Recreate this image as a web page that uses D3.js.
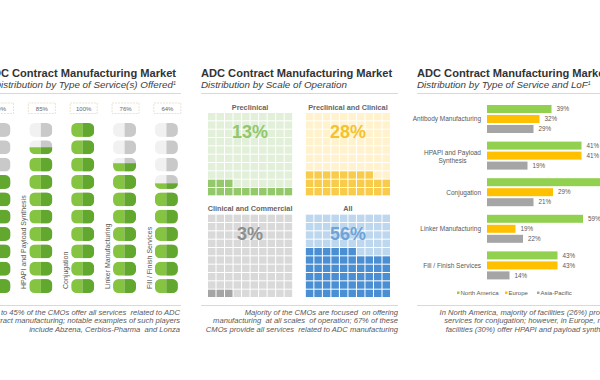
<!DOCTYPE html>
<html><head><meta charset="utf-8">
<script src="https://cdn.jsdelivr.net/npm/d3@7"></script>
<style>
html,body{margin:0;padding:0;background:#fff;}
svg{display:block;font-family:"Liberation Sans",Arial,sans-serif;}
</style></head>
<body><svg id="c" width="600" height="380"></svg>
<script>
// ---------- DATA ----------
const titleText = "ADC Contract Manufacturing Market";
const subtitles = ["Distribution by Type of Service(s) Offered", "Distribution by Scale of Operation", "Distribution by Type of Service and LoF"];
const subtitleNote = ["1", "", "1"];

// Panel 1: share of CMOs offering each service (%)
const serviceTypes = ["Antibody Manufacturing", "HPAPI and Payload Synthesis", "Conjugation", "Linker Manufacturing", "Fill / Finish Services"];
const servicePct = [70, 85, 100, 76, 64];
const pillsPerColumn = 10;

// Panel 2: scale of operation (%)
const scaleNames = ["Preclinical", "Preclinical and Clinical", "Clinical and Commercial", "All"];
const scalePct = [13, 28, 3, 56];

// Panel 3: type of service by location of facility
const lofCategories = ["Antibody Manufacturing", "HPAPI and Payload Synthesis", "Conjugation", "Linker Manufacturing", "Fill / Finish Services"];
const regions = ["North America", "Europe", "Asia-Pacific"];
const naValues = [43, 63, 82, 64, 47];
const euValues = [35, 63, 44, 19, 47];
const apValues = [31, 27, 31, 24, 15];
const naLabels = ["39%", "41%", "26%", "59%", "43%"];
const euLabels = ["32%", "41%", "29%", "19%", "43%"];
const apLabels = ["29%", "19%", "21%", "22%", "14%"];

const captions1 = ["Close to 45% of the CMOs offer all services  related to ADC", "contract manufacturing; notable examples of such players", "include Abzena, Cerbios-Pharma  and Lonza"];
const captions2 = ["Majority of the CMOs are focused  on offering", "manufacturing  at all scales  of operation; 67% of these", "CMOs provide all services  related to ADC manufacturing"];
const captions3 = ["In North America, majority of facilities (26%) provide", "services for conjugation; however, in Europe, most", "facilities (30%) offer HPAPI and payload synthesis"];

// ---------- DRAW ----------
const svg = d3.select("#c");
const TXT = "#595959";

function header(x, anchor, i) {
  svg.append("text").attr("x", x).attr("y", 77).attr("text-anchor", anchor)
    .attr("font-size", 11.1).attr("font-weight", "bold").attr("fill", "#333").text(titleText);
  const t = svg.append("text").attr("x", x).attr("y", 88).attr("text-anchor", anchor)
    .attr("font-size", 9.8).attr("font-style", "italic").attr("fill", "#404040");
  t.append("tspan").text(subtitles[i]);
  if (subtitleNote[i]) t.append("tspan").attr("font-size", 5.5).attr("dy", -3.5).text(subtitleNote[i]);
}
function rule(x1, x2, y) {
  svg.append("line").attr("x1", x1).attr("x2", x2).attr("y1", y).attr("y2", y)
    .attr("stroke", "#d9d9d9").attr("stroke-width", 1);
}
function caption(lines, xr) {
  svg.append("g").selectAll("text").data(lines).join("text")
    .attr("x", xr).attr("y", (d, i) => 315 + i * 8.3).attr("text-anchor", "end")
    .attr("font-size", 7.6).attr("font-style", "italic").attr("fill", TXT)
    .attr("xml:space", "preserve").text(d => d);
}

// ===== Panel 1 =====
header(176, "end", 0);
rule(0, 181, 93.5);
rule(0, 181, 305.5);
caption(captions1, 180);

const colX = d3.scalePoint().domain(serviceTypes).range([-1, 166.4]);
const pillY = d3.scaleBand().domain(d3.range(pillsPerColumn)).range([123, 293]).paddingInner(0.2);
const pillW = 23, pillH = pillY.bandwidth();
const defs = svg.append("defs");
defs.append("clipPath").attr("id", "pill").append("rect")
  .attr("x", -pillW / 2).attr("y", 0).attr("width", pillW).attr("height", pillH).attr("rx", 5.5);

serviceTypes.forEach((s, i) => {
  const cx = colX(s);
  const g = svg.append("g").attr("transform", `translate(${cx},0)`);
  g.append("rect").attr("x", -12.5).attr("y", 103).attr("width", 27).attr("height", 10.5)
    .attr("fill", "#fff").attr("stroke", "#e6dcc2").attr("stroke-width", 0.8).attr("stroke-dasharray", "2,1");
  g.append("text").attr("x", 1).attr("y", 110.5).attr("text-anchor", "middle")
    .attr("font-size", 6).attr("fill", "#666").text(servicePct[i] + "%");
  svg.append("text").attr("transform", `translate(${cx - 14.5},289) rotate(-90)`)
    .attr("font-size", 7).attr("fill", TXT).text(s);
  const units = servicePct[i] / 100 * pillsPerColumn;
  d3.range(pillsPerColumn).forEach(j => {
    const k = pillsPerColumn - 1 - j;
    const frac = Math.max(0, Math.min(1, units - k));
    const pg = g.append("g").attr("transform", `translate(0,${pillY(j)})`).attr("clip-path", "url(#pill)");
    pg.append("rect").attr("x", -pillW / 2).attr("y", 0).attr("width", pillW / 2).attr("height", pillH).attr("fill", "#f1f1f1");
    pg.append("rect").attr("x", 0).attr("y", 0).attr("width", pillW / 2).attr("height", pillH).attr("fill", "#c9c9c9");
    if (frac > 0) {
      const h = pillH * frac;
      pg.append("rect").attr("x", -pillW / 2).attr("y", pillH - h).attr("width", pillW / 2).attr("height", h).attr("fill", "#84c441");
      pg.append("rect").attr("x", 0).attr("y", pillH - h).attr("width", pillW / 2).attr("height", h).attr("fill", "#62a82f");
    }
  });
});

// ===== Panel 2 =====
header(201, "start", 1);
rule(201, 398, 93.5);
rule(201, 398, 305.5);
caption(captions2, 398);

const waffleThemes = [
  {bg: "#e2efd9", fill: "#93c86b", big: "#92c86a"},
  {bg: "#fff2cc", fill: "#f8cc4a", big: "#f4c22b"},
  {bg: "#d9d9d9", fill: "#a5a5a5", big: "#8f8f8f"},
  {bg: "#bdd7ee", fill: "#4a8fd3", big: "#6fa3d8"}
];
const waffleX = d3.scaleBand().domain([0, 1]).range([208, 390]).paddingInner(0.14);
const waffleY = d3.scaleBand().domain([0, 1]).range([113, 297]).paddingInner(0.19);
const cell = d3.scaleBand().domain(d3.range(10)).range([0, waffleX.bandwidth()]).paddingInner(0.12);
const cellY = d3.scaleBand().domain(d3.range(10)).range([waffleY.bandwidth(), 0]).paddingInner(0.12);

scaleNames.forEach((name, i) => {
  const th = waffleThemes[i];
  const x0 = waffleX(i % 2), y0 = waffleY(Math.floor(i / 2));
  const w = waffleX.bandwidth();
  const g = svg.append("g").attr("transform", `translate(${x0},${y0})`);
  g.selectAll("rect").data(d3.range(100)).join("rect")
    .attr("x", n => cell(n % 10)).attr("y", n => cellY(Math.floor(n / 10)))
    .attr("width", cell.bandwidth()).attr("height", cellY.bandwidth())
    .attr("fill", n => n < scalePct[i] ? th.fill : th.bg);
  svg.append("text").attr("x", x0 + w / 2).attr("y", y0 - 3.5).attr("text-anchor", "middle")
    .attr("font-size", 7.3).attr("font-weight", "bold").attr("fill", "#666").text(name);
  svg.append("text").attr("x", x0 + w / 2).attr("y", y0 + 25).attr("text-anchor", "middle")
    .attr("font-size", 18).attr("font-weight", "bold").attr("fill", th.big).text(scalePct[i] + "%");
});

// ===== Panel 3 =====
header(417, "start", 2);
rule(417, 600, 93.5);
rule(417, 600, 305.5);
caption(captions3, 614);

const regionColors = ["#92d050", "#ffc000", "#a5a5a5"];
const catY = d3.scaleBand().domain(lofCategories).range([101, 284]);
const regY = d3.scaleBand().domain(regions).range([4, 32]).paddingInner(0.2);
const xBar = d3.scaleLinear().domain([0, 100]).range([0, 150]);
const barX0 = 487;
const series = [naValues, euValues, apValues];
const seriesLabels = [naLabels, euLabels, apLabels];

lofCategories.forEach((c, ci) => {
  const gy = catY(c);
  regions.forEach((r, ri) => {
    const v = series[ri][ci];
    svg.append("rect").attr("x", barX0).attr("y", gy + regY(r))
      .attr("width", xBar(v)).attr("height", regY.bandwidth()).attr("fill", regionColors[ri]);
    svg.append("text").attr("x", barX0 + xBar(v) + 5).attr("y", gy + regY(r) + regY.bandwidth() / 2 + 2.2)
      .attr("font-size", 6.3).attr("fill", TXT).text(seriesLabels[ri][ci]);
  });
  const cy = gy + regY("Europe") + regY.bandwidth() / 2;
  if (c === "HPAPI and Payload Synthesis") {
    const t1 = svg.append("text").attr("x", 481).attr("y", cy - 1).attr("text-anchor", "end")
      .attr("font-size", 6.5).attr("fill", TXT).text("HPAPI and Payload");
    const w1 = t1.node().getComputedTextLength();
    svg.append("text").attr("x", 481 - w1 / 2).attr("y", cy + 7).attr("text-anchor", "middle")
      .attr("font-size", 6.5).attr("fill", TXT).text("Synthesis");
  } else {
    svg.append("text").attr("x", 481).attr("y", cy + 2.3).attr("text-anchor", "end")
      .attr("font-size", 6.5).attr("fill", TXT).text(c);
  }
});

const legX = [457, 505, 537];
regions.forEach((r, i) => {
  svg.append("rect").attr("x", legX[i]).attr("y", 291.5).attr("width", 2.5).attr("height", 2.5).attr("fill", regionColors[i]);
  svg.append("text").attr("x", legX[i] + 3.5).attr("y", 294.5).attr("font-size", 6).attr("fill", TXT).text(r);
});
</script></body></html>
